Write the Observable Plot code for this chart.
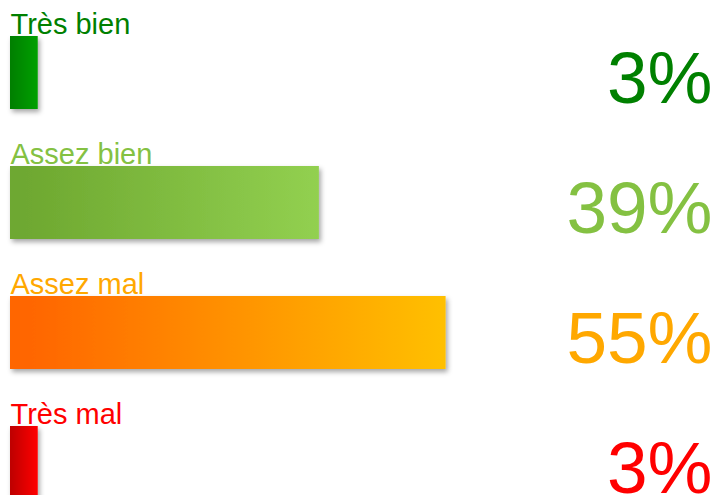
<!DOCTYPE html>
<html>
<head>
<meta charset="utf-8">
<script src="https://cdn.jsdelivr.net/npm/d3@7"></script>
<script src="https://cdn.jsdelivr.net/npm/@observablehq/plot@0.6"></script>
<style>
  html, body { margin: 0; padding: 0; background: #fff; overflow: hidden; }
</style>
</head>
<body>
<div id="chart"></div>
<script>
const categories = ["Très bien", "Assez bien", "Assez mal", "Très mal"];
const values = [3.5, 39, 55, 3.5];           // bar lengths (%)
const pctLabels = ["3%", "39%", "55%", "3%"]; // displayed labels
const textColors = ["#008000", "#84c142", "#ffa800", "#ff0000"];
const gradStart = ["#008000", "#6ea830", "#ff6600", "#c00000"];
const gradEnd = ["#00a000", "#92d050", "#ffc000", "#ff0000"];

const data = categories.map((c, i) => ({
  cat: c, value: values[i], label: pctLabels[i],
  color: textColors[i], grad: `url(#grad${i})`
}));

const font = "Liberation Sans, Arial, sans-serif";

const chart = Plot.plot({
  width: 716,
  height: 495,
  margin: 0,
  style: { fontFamily: font, overflow: "hidden", background: "#fff" },
  x: { domain: [0, 100], range: [10, 802], axis: null },
  y: { domain: categories, range: [-22.4, 557], padding: 0.44, axis: null },
  color: { type: "identity" },
  marks: [
    Plot.barX(data, { x: "value", y: "cat", fill: "grad" }),
    Plot.text(data, {
      x: 0, y: "cat", text: "cat", fill: "color",
      textAnchor: "start", fontSize: 29, dy: -48
    }),
    Plot.text(data, {
      frameAnchor: "right", dx: -4, y: "cat", text: "label", fill: "color",
      textAnchor: "end", fontSize: 73, dy: 7
    })
  ]
});

// gradients and drop shadow definitions
const svg = d3.select(chart.tagName.toLowerCase() === "svg" ? chart : chart.querySelector("svg"));
const defs = svg.insert("defs", ":first-child");
gradStart.forEach((s, i) => {
  const g = defs.append("linearGradient").attr("id", `grad${i}`)
    .attr("x1", "0").attr("y1", "0").attr("x2", "1").attr("y2", "0");
  g.append("stop").attr("offset", "0.05").attr("stop-color", s);
  g.append("stop").attr("offset", "1").attr("stop-color", gradEnd[i]);
});
const f = defs.append("filter").attr("id", "shadow")
  .attr("x", "-20%").attr("y", "-20%").attr("width", "150%").attr("height", "150%");
f.append("feDropShadow").attr("dx", 2).attr("dy", 3).attr("stdDeviation", 2.5)
  .attr("flood-color", "#000").attr("flood-opacity", 0.35);
svg.selectAll("g[aria-label='bar'] rect").attr("filter", "url(#shadow)");

document.getElementById("chart").appendChild(chart);
</script>
</body>
</html>
